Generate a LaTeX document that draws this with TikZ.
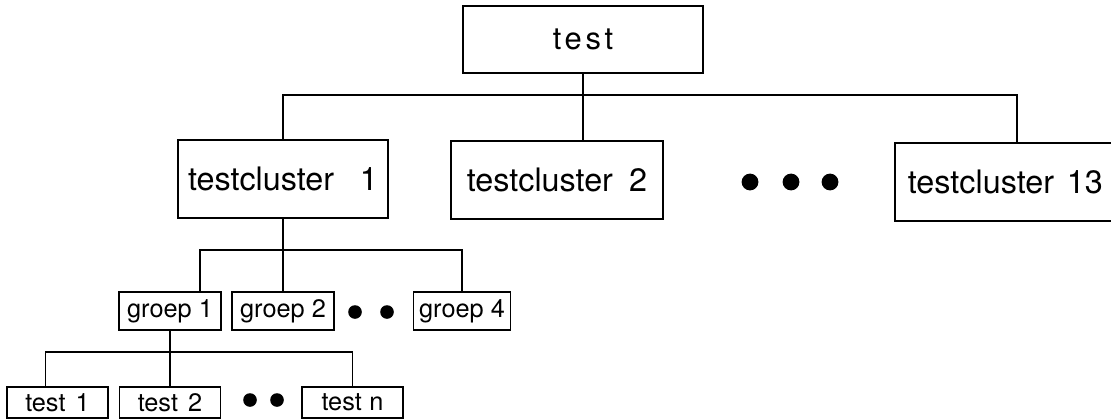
\documentclass[tikz,border=0pt]{standalone}
\usepackage{fontspec}
\setmainfont{TeX Gyre Heros}
\tikzset{
    kopbox/.style={
        rectangle,
        draw,
        line width=1.3pt,
        inner sep=0pt,
        minimum width=6cm,
        minimum height=1.675cm,
        font={\fontsize{22pt}{26}\selectfont\addfontfeature{LetterSpace=12}}
    },
    clusterbox/.style={
        rectangle,
        draw,
        line width=1.3pt,
        inner sep=0pt,
        minimum height=1.95cm,
        font={\fontsize{23pt}{27}\selectfont}
    },
    groepbox/.style={
        rectangle,
        draw,
        line width=1.3pt,
        inner sep=0pt,
        minimum width=2.55cm,
        minimum height=0.95cm,
        font={\fontsize{18pt}{20}\selectfont}
    },
    testbox/.style={
        rectangle,
        draw,
        line width=1.3pt,
        inner sep=0pt,
        minimum width=2.525cm,
        minimum height=0.775cm,
        font={\fontsize{18pt}{20}\selectfont}
    },
    line/.style={draw, line width=1.3pt},
}
\begin{document}
\begin{tikzpicture}[x=0.025cm,y=-0.025cm]
\useasboundingbox (0,0) rectangle (1111,420);

% bovenste niveau
\node[kopbox] (test) at (583,39.5) {test};
\node[clusterbox, minimum width=5.25cm] (tc1) at (283,179) {testcluster\hspace{0.8em}1};
\node[clusterbox, minimum width=5.3cm] (tc2) at (557,180) {testcluster\hspace{0.5em}2};
\node[clusterbox, minimum width=6.1cm, inner xsep=0.325cm, text width=5.45cm, align=left] (tc13) at (1017,182) {testcluster\hspace{0.4em}13};
\coordinate (bus1) at (583,95);

\draw[line] (test.south) -- (test.south |- tc2.north);
\draw[line] (tc1.north) |- (bus1) -| (tc13.north);
\fill (750,182) circle (0.21cm);
\fill (791,182) circle (0.21cm);
\fill (830,182) circle (0.21cm);

% groepen
\node[groepbox] (g1) at (170,311) {groep 1};
\node[groepbox] (g2) at (283,311) {groep 2};
\node[groepbox, minimum width=2.425cm] (g4) at (462,311) {groep 4};
\coordinate (bus2) at (283,250);

\draw[line] (tc1.south) -- (g2.north);
\draw[line] ([xshift=0.75cm]g1.north) |- (bus2) -| (g4.north);
\fill (355,312) circle (0.17cm);
\fill (387,312) circle (0.17cm);

% tests
\node[testbox] (t1) at (57.5,402.5) {test\hspace{0.4em}1};
\node[testbox] (t2) at (170,402.5) {test\hspace{0.4em}2};
\node[testbox] (tn) at (352.5,402.5) {test\hspace{0.3em}n};
\coordinate (bus3) at (170,352);

\draw[line] (g1.south) -- (t2.north);
\draw[line] ([xshift=-0.3cm]t1.north) |- (bus3) -| (tn.north);
\fill (250,400) circle (0.17cm);
\fill (277,400) circle (0.17cm);
\end{tikzpicture}
\end{document}
